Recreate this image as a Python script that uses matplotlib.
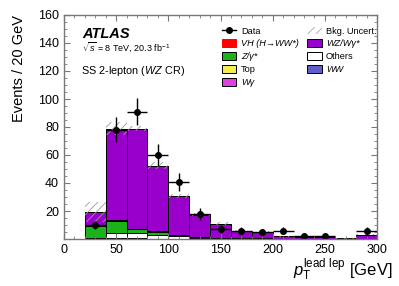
import numpy as np
import matplotlib.pyplot as plt
from matplotlib.patches import Patch
from matplotlib.lines import Line2D
from matplotlib.ticker import MultipleLocator

plt.rcParams['font.family'] = ['Liberation Sans', 'DejaVu Sans']
plt.rcParams['mathtext.fontset'] = 'custom'
plt.rcParams['mathtext.rm'] = 'Liberation Sans'
plt.rcParams['mathtext.it'] = 'Liberation Sans:italic'
plt.rcParams['hatch.linewidth'] = 0.6

# bins of leading lepton pT, 20 GeV wide
bin_lo = [20, 40, 60, 80, 100, 120, 140, 160, 180, 200, 220, 240, 260, 280]

# stacked backgrounds (bottom -> top)
top = [0.2, 0.4, 0.4, 0.3, 0.2, 0.1, 0.1, 0.05, 0.05, 0, 0, 0, 0, 0]
others = [0.2, 4.0, 4.0, 2.9, 1.6, 0.8, 0.5, 0.3, 0.2, 0.2, 0.1, 0.1, 0.05, 0.1]
zgam = [8.7, 8.3, 2.4, 1.9, 0.6, 0.3, 0.2, 0.1, 0.1, 0.05, 0.05, 0.05, 0, 0.05]
wgam = [0.2, 0.3, 0.2, 0.2, 0.1, 0.1, 0.05, 0.05, 0, 0, 0, 0, 0, 0]
ww = [0.2, 0.3, 0.3, 0.2, 0.1, 0.1, 0.05, 0.05, 0.05, 0, 0, 0, 0, 0]
wz = [9.8, 65, 71, 46.5, 27.8, 16, 10, 5, 4.7, 1.7, 1.6, 1.6, 0.45, 3]
vh = [0.1, 0.6, 0.6, 0.5, 0.3, 0.1, 0.1, 0.05, 0.05, 0, 0, 0, 0, 0]
bkg_unc = [7, 4.5, 1.5, 2.5, 1.5, 1.0, 0.8, 0.5, 0.5, 0.3, 0.3, 0.3, 0.2, 0.5]

# data
data_x = [30, 50, 70, 90, 110, 130, 150, 170, 190, 210, 230, 250, 290]
data_y = [10, 78, 91, 60, 41, 18, 7, 6, 5, 6, 2, 2, 6]

components = [
    (top, '#f0f050'),
    (others, 'white'),
    (zgam, '#1ab31a'),
    (wgam, '#e040e0'),
    (ww, '#6060cc'),
    (wz, '#9900cc'),
    (vh, '#ff0000'),
]

fig = plt.figure(figsize=(3.99, 2.86), dpi=100)
ax = fig.add_axes([64 / 399, 1 - 239 / 286, 313 / 399, 224 / 286])

bottom = np.zeros(len(bin_lo))
for vals, col in components:
    vals = np.array(vals, dtype=float)
    ax.bar(bin_lo, vals, width=20, bottom=bottom, align='edge', color=col,
           edgecolor='black', linewidth=0.7)
    bottom += vals

total = bottom
unc = np.array(bkg_unc)
ax.bar(bin_lo, 2 * unc, width=20, bottom=total - unc, align='edge', fill=False,
       hatch='////', edgecolor='#999999', linewidth=0)

yerr = np.sqrt(np.array(data_y, dtype=float))
ax.errorbar(data_x, data_y, xerr=10, yerr=yerr, fmt='o', color='black',
            ms=4, elinewidth=1.0, capsize=0)

ax.set_xlim(0, 300)
ax.set_ylim(0, 160)
ax.xaxis.set_major_locator(MultipleLocator(50))
ax.xaxis.set_minor_locator(MultipleLocator(10))
ax.yaxis.set_major_locator(MultipleLocator(20))
ax.yaxis.set_minor_locator(MultipleLocator(5))
ax.tick_params(which='both', direction='in', top=True, right=True,
               color='#777777', labelsize=9)
ax.tick_params(which='major', length=4.5, width=0.8)
ax.tick_params(which='minor', length=2.2, width=0.6)
ax.set_yticks(range(20, 161, 20))
for s in ax.spines.values():
    s.set_color('#777777')
    s.set_linewidth(1.0)

ax.set_ylabel('Events / 20 GeV', fontsize=10.5, loc='top', labelpad=9)
fig.text(392 / 399, 1 - 276 / 286, r'$p_{\mathrm{T}}^{\mathrm{lead\ lep}}$ [GeV]',
         ha='right', va='baseline', fontsize=12)

fig.text(82 / 399, 1 - 38 / 286, 'ATLAS', fontsize=10.5, fontweight='bold',
         fontstyle='italic', va='baseline')
fig.text(82 / 399, 1 - 51 / 286, r'$\sqrt{s}$ = 8 TeV, 20.3 fb$^{-1}$',
         fontsize=6.5, va='baseline')
fig.text(81 / 399, 1 - 74 / 286, r'SS 2-lepton ($\mathit{WZ}$ CR)',
         fontsize=7.8, va='baseline')

handles = [
    Line2D([], [], color='black', marker='o', ms=4, lw=1.0),
    Patch(facecolor='#ff0000', edgecolor='#ff0000', lw=0.7),
    Patch(facecolor='#1ab31a', edgecolor='black', lw=0.7),
    Patch(facecolor='#f0f050', edgecolor='black', lw=0.7),
    Patch(facecolor='#e040e0', edgecolor='black', lw=0.7),
    Patch(fill=False, hatch='////', edgecolor='#aaaaaa', lw=0),
    Patch(facecolor='#9900cc', edgecolor='black', lw=0.7),
    Patch(facecolor='white', edgecolor='black', lw=0.7),
    Patch(facecolor='#6060cc', edgecolor='black', lw=0.7),
]
labels = ['Data', 'VH (H\u2192WW*)', 'Z/\u03b3*', 'Top', 'W\u03b3',
          'Bkg. Uncert.', 'WZ/W\u03b3*', 'Others', 'WW']
italic = [False, True, True, False, True, False, True, False, True]
leg = ax.legend(handles, labels, ncol=2, frameon=False, fontsize=6.6,
                loc='upper left', bbox_to_anchor=(217 / 399, 1 - 22 / 286),
                bbox_transform=fig.transFigure, handlelength=1.6,
                handleheight=0.9, labelspacing=0.42, columnspacing=0.9,
                handletextpad=0.5, borderpad=0)
for t, it in zip(leg.get_texts(), italic):
    if it:
        t.set_fontstyle('italic')

fig.savefig('out.png', dpi=100)
